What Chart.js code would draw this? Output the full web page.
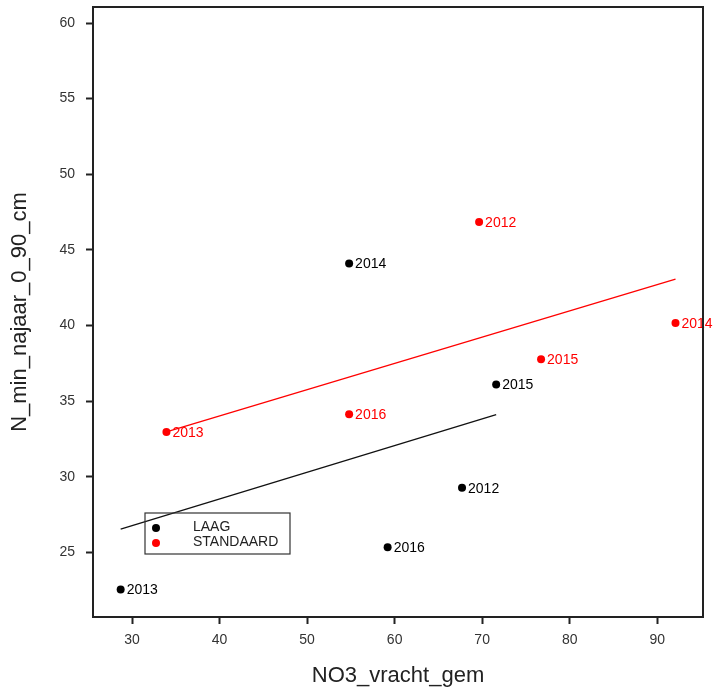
<!DOCTYPE html>
<html>
<head>
<meta charset="utf-8">
<script src="https://cdn.jsdelivr.net/npm/chart.js@4/dist/chart.umd.min.js"></script>
<style>
  html, body { margin: 0; padding: 0; background: #fff; }
  #wrap { width: 714px; height: 690px; }
</style>
</head>
<body>
<div id="wrap"><canvas id="scatter"></canvas></div>
<script>
// waarden
var laag_jaren = ['2013', '2014', '2015', '2012', '2016'];
var laag_x = [28.7, 54.8, 71.6, 67.7, 59.2];
var laag_y = [22.54, 44.1, 36.1, 29.26, 25.34];

var std_jaren = ['2012', '2013', '2014', '2015', '2016'];
var std_x = [69.65, 33.93, 92.09, 76.73, 54.8];
var std_y = [46.85, 32.96, 40.17, 37.77, 34.13];

// eindpunten van de regressielijnen
var laag_fit_x = [28.7, 71.6];
var laag_fit_y = [26.53, 34.11];
var std_fit_x = [33.93, 92.09];
var std_fit_y = [32.96, 43.06];

var x_ticks = [30, 40, 50, 60, 70, 80, 90];
var y_ticks = [25, 30, 35, 40, 45, 50, 55, 60];

function toPoints(xs, ys) {
  return xs.map(function (x, i) { return { x: x, y: ys[i] }; });
}

var FONT = 'Liberation Sans, Arial, sans-serif';

// jaartallen naast de punten
var puntLabels = {
  id: 'puntLabels',
  afterDatasetsDraw: function (chart) {
    var ctx = chart.ctx;
    ctx.save();
    ctx.font = '14px ' + FONT;
    ctx.textAlign = 'left';
    ctx.textBaseline = 'middle';
    [[0, laag_jaren], [1, std_jaren]].forEach(function (d) {
      var meta = chart.getDatasetMeta(d[0]);
      ctx.fillStyle = chart.data.datasets[d[0]].backgroundColor;
      meta.data.forEach(function (pt, i) {
        ctx.fillText(d[1][i], pt.x + 6, pt.y + 1);
      });
    });
    ctx.restore();
  }
};

// kader om het plotgebied + legenda-box
var kader = {
  id: 'kader',
  afterDraw: function (chart) {
    var ctx = chart.ctx, a = chart.chartArea;
    ctx.save();
    ctx.strokeStyle = '#222';
    ctx.lineWidth = 2;
    ctx.strokeRect(a.left, a.top, a.right - a.left, a.bottom - a.top);

    // legenda
    var bx = a.left + 52, by = a.bottom - 104, bw = 145, bh = 41;
    ctx.lineWidth = 1.2;
    ctx.strokeStyle = '#333';
    ctx.strokeRect(bx, by, bw, bh);
    var items = [['LAAG', '#000'], ['STANDAARD', '#ff0000']];
    ctx.font = '14px ' + FONT;
    ctx.textBaseline = 'middle';
    items.forEach(function (it, i) {
      var cy = by + 14 + i * 15;
      ctx.fillStyle = it[1];
      ctx.beginPath();
      ctx.arc(bx + 11, cy + 1, 4, 0, Math.PI * 2);
      ctx.fill();
      ctx.fillStyle = '#222';
      ctx.fillText(it[0], bx + 48, cy);
    });
    ctx.restore();
  }
};

new Chart(document.getElementById('scatter').getContext('2d'), {
  type: 'scatter',
  data: {
    datasets: [{
        label: 'LAAG',
        data: toPoints(laag_x, laag_y),
        backgroundColor: '#000',
        borderColor: '#000',
        pointRadius: 4,
        pointBorderWidth: 0
      }, {
        label: 'STANDAARD',
        data: toPoints(std_x, std_y),
        backgroundColor: '#ff0000',
        borderColor: '#ff0000',
        pointRadius: 4,
        pointBorderWidth: 0
      }, {
        label: 'fit LAAG',
        type: 'line',
        data: toPoints(laag_fit_x, laag_fit_y),
        borderColor: '#111',
        borderWidth: 1.3,
        pointRadius: 0,
        fill: false
      }, {
        label: 'fit STANDAARD',
        type: 'line',
        data: toPoints(std_fit_x, std_fit_y),
        borderColor: '#ff0000',
        borderWidth: 1.3,
        pointRadius: 0,
        fill: false
      }
    ]
  },
  options: {
    responsive: true,
    maintainAspectRatio: false,
    animation: false,
    layout: { padding: { top: 7, right: 11, left: 0, bottom: 0 } },
    plugins: {
      legend: { display: false },
      tooltip: { enabled: false }
    },
    scales: {
      x: {
        type: 'linear',
        min: 25.54,
        max: 95.23,
        afterFit: function (s) { s.height = 73; s.paddingLeft = 0; s.paddingRight = 0; },
        afterBuildTicks: function (s) { s.ticks = x_ticks.map(function (v) { return { value: v }; }); },
        border: { display: false },
        grid: { drawOnChartArea: false, drawTicks: true, tickLength: 7, tickWidth: 2, color: '#222' },
        ticks: { color: '#333', font: { family: FONT, size: 14 }, padding: 8, maxRotation: 0 },
        title: { display: true, text: 'NO3_vracht_gem', color: '#222', font: { family: FONT, size: 22 }, padding: { bottom: 1, top: 0 } }
      },
      y: {
        type: 'linear',
        min: 20.72,
        max: 61.06,
        afterFit: function (s) { s.width = 93; s.paddingTop = 0; s.paddingBottom = 0; },
        afterBuildTicks: function (s) { s.ticks = y_ticks.map(function (v) { return { value: v }; }); },
        border: { display: false },
        grid: { drawOnChartArea: false, drawTicks: true, tickLength: 7, tickWidth: 2, color: '#222' },
        ticks: { color: '#333', font: { family: FONT, size: 14 }, padding: 11 },
        title: { display: true, text: 'N_min_najaar_0_90_cm', color: '#222', font: { family: FONT, size: 22 }, padding: { top: 7, bottom: 0 } }
      }
    }
  },
  plugins: [puntLabels, kader]
});
</script>
</body>
</html>
